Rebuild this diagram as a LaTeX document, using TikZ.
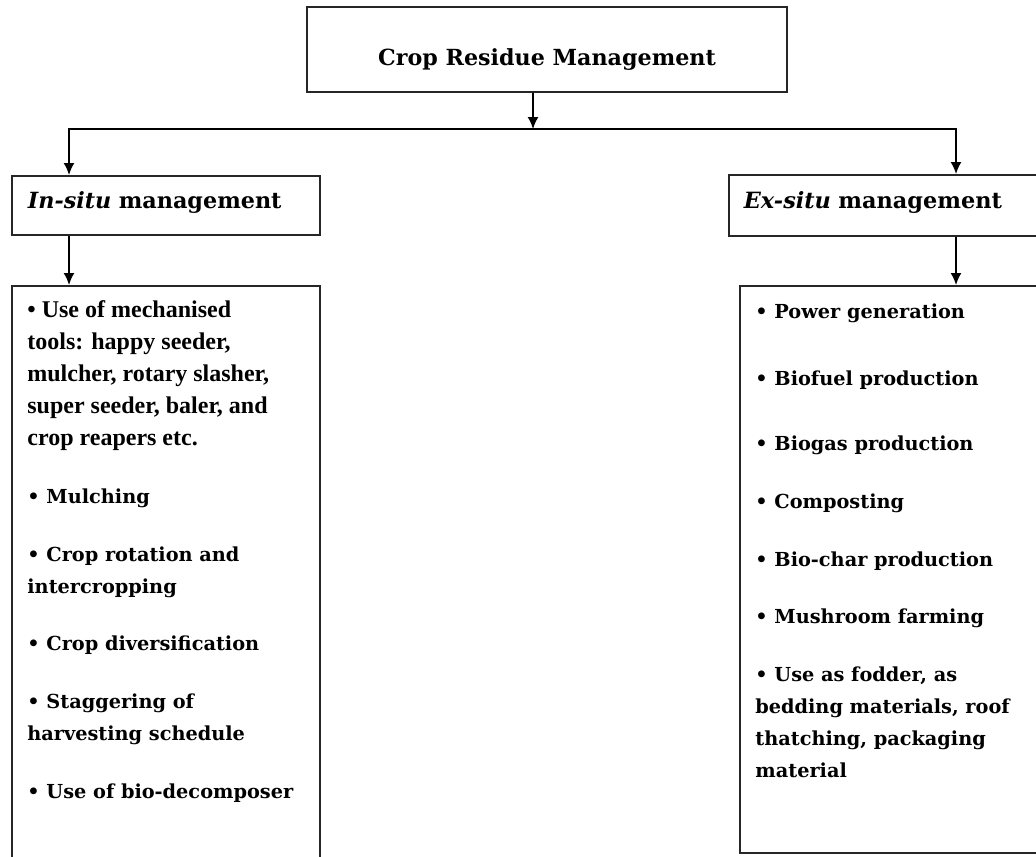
\documentclass[tikz,border=0pt]{standalone}
\usepackage{fontspec}
\setmainfont{DejaVu Serif}
\newfontfamily\timesfont{Liberation Serif}
\usetikzlibrary{positioning,arrows.meta,calc}

\tikzset{
	box/.style={draw=black!85, line width=0.9pt, rectangle, inner sep=0pt},
	conn/.style={draw=black, line width=0.8pt},
	item/.style={anchor=base west, inner sep=0pt, align=left, font=\bfseries\fontsize{9.65}{15.9}\selectfont},
	timesitem/.style={item, font=\timesfont\bfseries\fontsize{12}{15.9}\selectfont}
}

\begin{document}
\begin{tikzpicture}[
		x=0.5pt, y=-0.5pt,
		>={Latex[length=6pt,width=5.5pt]}
	]
		\useasboundingbox (0,0) rectangle (1036,856);
		\clip (0,0) rectangle (1036,856);

		% boxes
		\node[box, minimum width=240pt, minimum height=42.5pt, text height=16.5pt, text depth=0pt, font=\bfseries\fontsize{11.1}{13}\selectfont] (crm) at (547,49.5) {Crop Residue Management};
		\node[box, anchor=north west, minimum width=154pt, minimum height=29.5pt, text width=138pt, align=left, text height=8pt, text depth=4.5pt, font=\bfseries\fontsize{11.15}{13}\selectfont] (insitu) at (11,175) {\textit{In-situ} management};
		\node[box, anchor=north west, minimum width=166pt, minimum height=30.5pt, text width=151pt, align=left, text height=8pt, text depth=4.5pt, font=\bfseries\fontsize{11.2}{13}\selectfont] (exsitu) at (728,174) {\textit{Ex-situ} management};
		\node[box, anchor=north west, minimum width=154pt, minimum height=300pt] (inlist) at (11,285) {};
		\node[box, anchor=north west, minimum width=160.5pt, minimum height=283.5pt] (exlist) at (739,285) {};

		% in-situ items (base = last line)
		\node[timesitem] (in1) at (27,445) {\textbullet{} Use of mechanised\\tools: happy seeder,\\mulcher, rotary slasher,\\super seeder, baler, and\\crop reapers etc.};
		\node[item] (in2) at (27,503) {\textbullet{} Mulching};
		\node[item] (in3) at (27,593) {\textbullet{} Crop rotation and\\intercropping};
		\node[item] (in4) at (27,650) {\textbullet{} Crop diversification};
		\node[item] (in5) at (27,740) {\textbullet{} Staggering of\\harvesting schedule};
		\node[item] (in6) at (27,798) {\textbullet{} Use of bio-decomposer};

		% ex-situ items
		\node[item] (ex1) at (755,318) {\textbullet{} Power generation};
		\node[item] (ex2) at (755,385) {\textbullet{} Biofuel production};
		\node[item] (ex3) at (755,450) {\textbullet{} Biogas production};
		\node[item] (ex4) at (755,508) {\textbullet{} Composting};
		\node[item] (ex5) at (755,566) {\textbullet{} Bio-char production};
		\node[item] (ex6) at (755,623) {\textbullet{} Mushroom farming};
		\node[item] (ex7) at (755,777) {\textbullet{} Use as fodder, as\\bedding materials, roof\\thatching, packaging\\material};

		% connectors
		\coordinate (jc) at (533,129);
		\coordinate (jl) at (69,129);
		\coordinate (jr) at (956,129);
		\draw[conn,->] (crm.south -| jc) -- (jc);
		\draw[conn,->] (jc) -| (insitu.north -| jl);
		\draw[conn,->] (jc) -| (exsitu.north -| jr);
		\draw[conn,->] (insitu.south -| jl) -- (inlist.north -| jl);
		\draw[conn,->] (exsitu.south -| jr) -- (exlist.north -| jr);
	\end{tikzpicture}
\end{document}
